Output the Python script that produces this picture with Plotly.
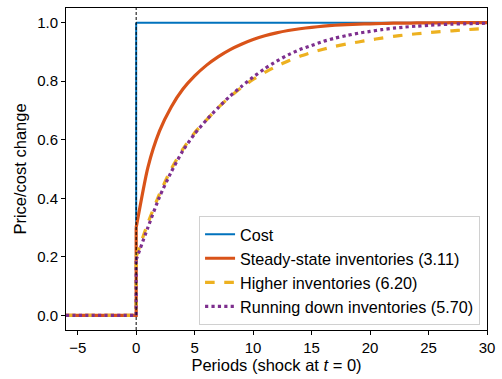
import plotly.graph_objects as go

# Periods before and after the cost shock (shock hits at t = 0)
pre_periods = [-6, -5, -4, -3, -2, -1, 0]
post_periods = list(range(0, 31))

# Price/cost response after the shock, one value per period t = 0..30
cost = [1.0] * 31
steady_state = [0.30, 0.505, 0.630, 0.712, 0.773, 0.818, 0.854, 0.883, 0.907,
                0.926, 0.942, 0.955, 0.965, 0.973, 0.979, 0.984, 0.988, 0.991,
                0.993, 0.995, 0.996, 0.997, 0.998, 0.998, 0.999, 0.999, 0.999,
                1.0, 1.0, 1.0, 1.0]
higher_inv = [0.20, 0.315, 0.415, 0.500, 0.568, 0.624, 0.667, 0.709, 0.746,
              0.778, 0.806, 0.830, 0.851, 0.869, 0.885, 0.898, 0.909, 0.919,
              0.927, 0.934, 0.941, 0.947, 0.953, 0.958, 0.962, 0.966, 0.969,
              0.972, 0.975, 0.978, 0.980]
running_down = [0.19, 0.300, 0.405, 0.490, 0.563, 0.620, 0.667, 0.709, 0.748,
                0.782, 0.814, 0.843, 0.868, 0.890, 0.908, 0.922, 0.936, 0.947,
                0.956, 0.964, 0.970, 0.976, 0.981, 0.985, 0.988, 0.991, 0.993,
                0.995, 0.996, 0.997, 0.998]
pre_shock = [0.0] * len(pre_periods)

series = [
    ("Cost", cost, "#0072BD", 2, "solid", "linear"),
    ("Steady-state inventories (3.11)", steady_state, "#D95319", 3.2, "solid", "spline"),
    ("Higher inventories (6.20)", higher_inv, "#EDB120", 3.2, "dash", "spline"),
    ("Running down inventories (5.70)", running_down, "#7E2F8E", 3.2, "dot", "spline"),
]

fig = go.Figure()
for name, vals, color, width, dash, shape in series:
    # flat pre-shock segment plus the jump at t = 0 (straight lines)
    fig.add_trace(go.Scatter(
        x=pre_periods + [0], y=pre_shock + [vals[0]], mode="lines",
        legendgroup=name, showlegend=False, hoverinfo="skip",
        line=dict(color=color, width=width, dash=dash, shape="linear"),
    ))
    # smooth post-shock adjustment path
    fig.add_trace(go.Scatter(
        x=post_periods, y=vals, mode="lines", name=name, legendgroup=name,
        line=dict(color=color, width=width, dash=dash, shape=shape, smoothing=0.6),
    ))

# Shock marker at t = 0
fig.add_shape(type="line", x0=0, x1=0, y0=0, y1=1, xref="x", yref="paper",
              line=dict(color="black", width=1, dash="3px,2px"))

font = "Liberation Sans, Arial, sans-serif"
fig.update_layout(
    width=502, height=379,
    margin=dict(l=66, r=11, t=7, b=48),
    paper_bgcolor="white", plot_bgcolor="white",
    font=dict(family=font, size=14, color="black"),
    showlegend=True,
    legend=dict(
        x=0.9835, y=0.015, xanchor="right", yanchor="bottom",
        bgcolor="rgba(255,255,255,0.85)", bordercolor="#d0d0d0", borderwidth=1,
        font=dict(size=16.2, family=font), tracegroupgap=0,
    ),
    xaxis=dict(
        range=[-6, 30], tickvals=[-5, 0, 5, 10, 15, 20, 25, 30],
        showgrid=False, zeroline=False, showline=True, linecolor="black",
        linewidth=1, mirror=True, ticks="outside", ticklen=4, tickcolor="black",
        tickfont=dict(size=15),
        title=dict(text="Periods (shock at <i>t</i> = 0)", font=dict(size=16.5), standoff=4),
    ),
    yaxis=dict(
        range=[-0.05, 1.05], tickvals=[0, 0.2, 0.4, 0.6, 0.8, 1.0], tickformat=".1f",
        showgrid=False, zeroline=False, showline=True, linecolor="black",
        linewidth=1, mirror=True, ticks="outside", ticklen=4, tickcolor="black",
        tickfont=dict(size=15),
        title=dict(text="Price/cost change", font=dict(size=16.5), standoff=6),
    ),
)

fig.write_html("out.html")
